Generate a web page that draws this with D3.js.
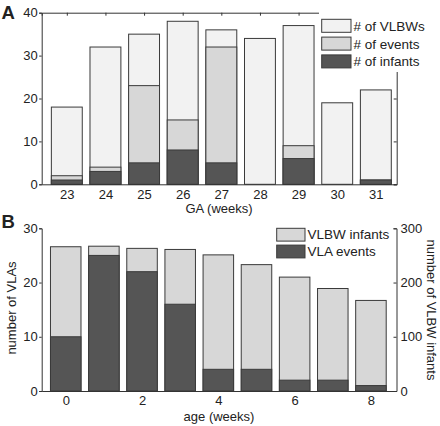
<!DOCTYPE html>
<html><head><meta charset="utf-8">
<script src="https://cdn.jsdelivr.net/npm/d3@7"></script>
<style>body{margin:0;background:#fff}svg{display:block}text{font-family:"Liberation Sans",Arial,sans-serif;fill:#222}</style>
</head><body>
<svg id="c" width="440" height="426"></svg>
<script>
// Panel A data
const gaWeeks = [23,24,25,26,27,28,29,30,31];
const nVLBWs  = [18,32,35,38,36,34,37,19,22];
const nEvents = [2,4,23,15,32,0,9,0,1];
const nInfants= [1,3,5,8,5,0,6,0,1];
const yTicksA = [0,10,20,30,40];
const legendA = ["# of VLBWs","# of events","# of infants"];
// Panel B data
const ageWeeks = [0,1,2,3,4,5,6,7,8];
const vlbwInfants = [266,267,263,261,251,233,210,189,167];
const vlaEvents = [10,25,22,16,4,4,2,2,1];
const xTicksB = [0,2,4,6,8];
const yTicksBL = [0,10,20,30];
const yTicksBR = [0,100,200,300];
const legendB = ["VLBW infants","VLA events"];

const colLight="#f2f2f2", colMid="#d7d7d7", colDark="#555555", stroke="#3a3a3a", axisCol="#333";
const svg=d3.select("#c");
const fs="13px";
const ff="Liberation Sans, Arial, sans-serif";

// ---------- Panel A ----------
const xA=d3.scaleLinear().domain([22.35,31.54]).range([41.7,396.7]);
const yA=d3.scaleLinear().domain([0,40]).range([184.3,12.7]);
const bwA=xA(23.4)-xA(22.6);
const gA=svg.append("g");
[[nVLBWs,colLight],[nEvents,colMid],[nInfants,colDark]].forEach(([arr,col])=>{
  gA.selectAll(null).data(gaWeeks.map((g,i)=>({g,v:arr[i]}))).enter().append("rect")
    .attr("x",d=>xA(d.g)-bwA/2).attr("width",bwA)
    .attr("y",d=>yA(d.v)).attr("height",d=>yA(0)-yA(d.v))
    .attr("fill",col).attr("stroke",stroke).attr("stroke-width",1);
});
const axA=svg.append("g");
axA.append("g").attr("transform",`translate(0,${yA(0)})`)
  .call(d3.axisBottom(xA).tickValues(gaWeeks).tickSize(0).tickPadding(5).tickFormat(d3.format("d")));
axA.append("g").attr("transform",`translate(${xA.range()[0]},0)`)
  .call(d3.axisLeft(yA).tickValues(yTicksA).tickSize(2.5).tickPadding(1.5));
axA.append("g").attr("transform",`translate(0,${yA(40)})`)
  .call(d3.axisTop(xA).tickValues(gaWeeks).tickSize(-3).tickFormat(""));
axA.append("g").attr("transform",`translate(${xA.range()[1]},0)`)
  .call(d3.axisRight(yA).tickValues(yTicksA).tickSize(-3).tickFormat(""));
axA.selectAll(".domain").attr("stroke",axisCol);
axA.selectAll(".tick line").attr("stroke",axisCol);
axA.selectAll("text").style("font-size",fs).attr("fill","#222").style("font-family",ff);
svg.append("text").attr("x",219).attr("y",213).attr("text-anchor","middle").style("font-size",fs).text("GA (weeks)");
svg.append("text").attr("x",1.5).attr("y",18.5).style("font-size","18.5px").style("font-weight","bold").text("A");
const lgA=svg.append("g");
lgA.append("rect").attr("x",319).attr("y",0).attr("width",121).attr("height",72).attr("fill","#fff");
[colLight,colMid,colDark].forEach((c,i)=>{
  lgA.append("rect").attr("x",321.7).attr("y",19.3+i*17.8).attr("width",29.3).attr("height",13).attr("fill",c).attr("stroke",stroke);
  lgA.append("text").attr("x",353.5).attr("y",26+i*17.8).attr("dy","0.35em").style("font-size","13.5px").text(legendA[i]);
});

// ---------- Panel B ----------
const xB=d3.scaleLinear().domain([-0.63,8.67]).range([41.7,396.5]);
const yBL=d3.scaleLinear().domain([0,30]).range([391,228.3]);
const yBR=d3.scaleLinear().domain([0,300]).range([391,228.3]);
const bwB=xB(0.4)-xB(-0.4);
const gB=svg.append("g");
gB.selectAll(null).data(ageWeeks.map((a,i)=>({a,v:vlbwInfants[i]}))).enter().append("rect")
  .attr("x",d=>xB(d.a)-bwB/2).attr("width",bwB)
  .attr("y",d=>yBR(d.v)).attr("height",d=>yBR(0)-yBR(d.v))
  .attr("fill",colMid).attr("stroke",stroke);
gB.selectAll(null).data(ageWeeks.map((a,i)=>({a,v:vlaEvents[i]}))).enter().append("rect")
  .attr("x",d=>xB(d.a)-bwB/2).attr("width",bwB)
  .attr("y",d=>yBL(d.v)).attr("height",d=>yBL(0)-yBL(d.v))
  .attr("fill",colDark).attr("stroke",stroke);
const axB=svg.append("g");
axB.append("g").attr("transform",`translate(0,${yBL(0)})`)
  .call(d3.axisBottom(xB).tickValues(xTicksB).tickSize(0).tickPadding(4.5).tickFormat(d3.format("d")));
axB.append("g").attr("transform",`translate(${xB.range()[0]},0)`)
  .call(d3.axisLeft(yBL).tickValues(yTicksBL).tickSize(2.5).tickPadding(1.5));
axB.append("g").attr("transform",`translate(${xB.range()[1]},0)`)
  .call(d3.axisRight(yBR).tickValues(yTicksBR).tickSize(-3).tickPadding(4));
axB.selectAll(".domain").attr("stroke",axisCol);
axB.selectAll(".tick line").attr("stroke",axisCol);
axB.selectAll("text").style("font-size",fs).attr("fill","#222").style("font-family",ff);
svg.append("text").attr("x",219).attr("y",420.5).attr("text-anchor","middle").style("font-size",fs).text("age (weeks)");
svg.append("text").attr("transform","translate(16,308) rotate(-90)").attr("text-anchor","middle").style("font-size",fs).text("number of VLAs");
svg.append("text").attr("transform","translate(427,310) rotate(90)").attr("text-anchor","middle").style("font-size",fs).text("number of VLBW infants");
svg.append("text").attr("x",1.5).attr("y",228.3).style("font-size","18.5px").style("font-weight","bold").text("B");
[colMid,colDark].forEach((c,i)=>{
  svg.append("rect").attr("x",276.7).attr("y",228.3+i*16.8).attr("width",28.3).attr("height",12.8).attr("fill",c).attr("stroke",stroke);
  svg.append("text").attr("x",307.5).attr("y",234.7+i*16.8).attr("dy","0.35em").style("font-size","13.5px").text(legendB[i]);
});
</script>
</body></html>
